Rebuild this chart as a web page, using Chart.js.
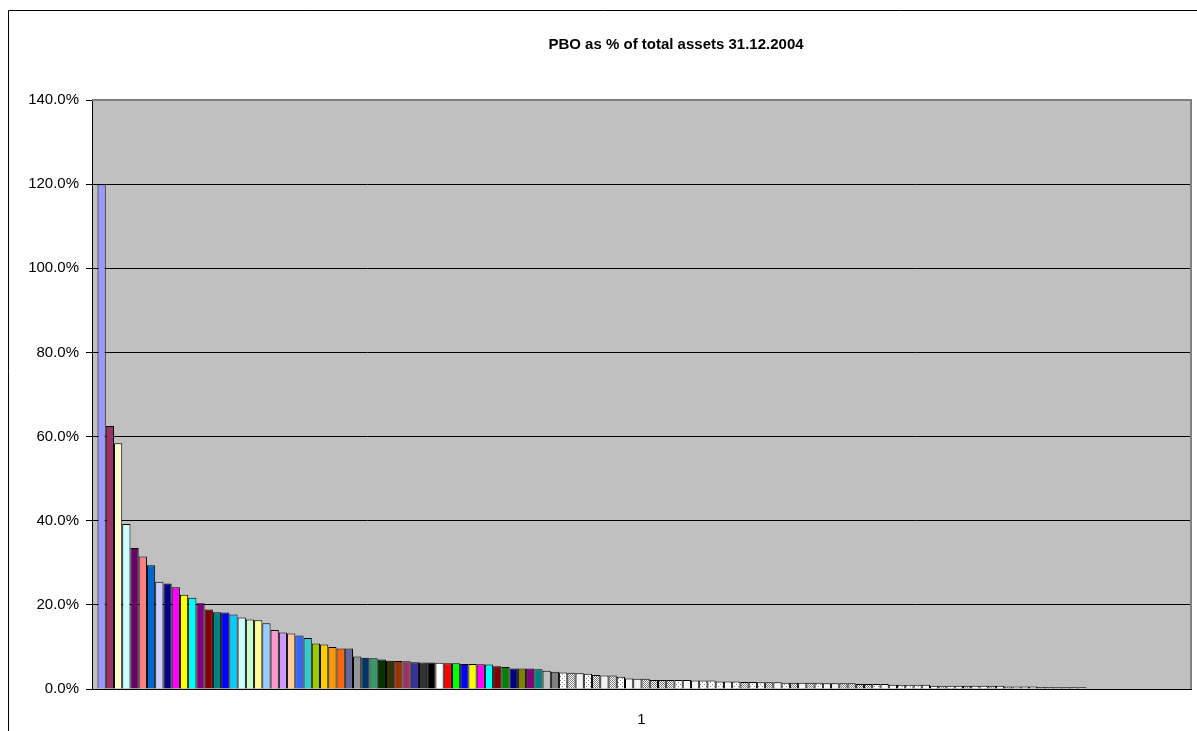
<!DOCTYPE html>
<html>
<head>
<meta charset="utf-8">
<script src="https://cdn.jsdelivr.net/npm/chart.js@4/dist/chart.umd.min.js"></script>
<style>
    html, body { margin: 0; padding: 0; background: #fff; }
    #wrap { width: 1197px; height: 731px; }
</style>
</head>
<body>
<div id="wrap"><canvas id="chart" width="1197" height="731"></canvas></div>
<script>
const categories = ['1']

// PBO as % of total assets, one series per company (sorted, as in the sheet)
const pboPercent = [
    120.0, 62.5, 58.4, 39.2, 33.5, 31.5, 29.4, 25.5, 25.1, 24.2,
    22.4, 21.7, 20.4, 18.9, 18.25, 18.2, 17.7, 17.0, 16.5, 16.35,
    15.6, 14.0, 13.4, 13.2, 12.7, 12.1, 10.8, 10.6, 10.0, 9.6,
    9.6, 7.7, 7.4, 7.3, 7.0, 6.7, 6.65, 6.6, 6.35, 6.3,
    6.3, 6.25, 6.1, 6.1, 5.95, 5.95, 5.9, 5.85, 5.4, 5.25,
    4.9, 4.9, 4.85, 4.7, 4.35, 4.1, 3.9, 3.85, 3.75, 3.6,
    3.3, 3.2, 3.2, 2.9, 2.5, 2.45, 2.45, 2.15, 2.15, 2.15,
    2.15, 2.15, 2.0, 2.0, 2.0, 1.8, 1.8, 1.8, 1.65, 1.65,
    1.6, 1.6, 1.6, 1.5, 1.5, 1.5, 1.5, 1.5, 1.35, 1.35,
    1.35, 1.35, 1.2, 1.2, 1.2, 1.2, 1.0, 1.0, 1.0, 1.0,
    1.0, 0.8, 0.8, 0.8, 0.75, 0.75, 0.75, 0.75, 0.75, 0.75,
    0.6, 0.6, 0.6, 0.6, 0.5, 0.5, 0.4, 0.4, 0.4, 0.4,
    0, 0, 0, 0, 0, 0, 0, 0, 0, 0, 0, 0
]

const chartTitle = 'PBO as % of total assets 31.12.2004'
const yTickMax = 140
const yTickStep = 20

// old Excel chart fill order (56 colours), patterns after that
const palette = [
    '#9999FF', '#993366', '#FFFFCC', '#CCFFFF', '#660066', '#FF8080', '#0066CC', '#CCCCFF',
    '#000080', '#FF00FF', '#FFFF00', '#00FFFF', '#800080', '#800000', '#008080', '#0000FF',
    '#00CCFF', '#CCFFFF', '#CCFFCC', '#FFFF99', '#99CCFF', '#FF99CC', '#CC99FF', '#FFCC99',
    '#3366FF', '#33CCCC', '#99CC00', '#FFCC00', '#FF9900', '#FF6600', '#666699', '#969696',
    '#003366', '#339966', '#003300', '#333300', '#993300', '#993366', '#333399', '#333333',
    '#000000', '#FFFFFF', '#FF0000', '#00FF00', '#0000FF', '#FFFF00', '#FF00FF', '#00FFFF',
    '#800000', '#008000', '#000080', '#808000', '#800080', '#008080', '#C0C0C0', '#808080'
]
const patternCycle = [
    'light', 'checker', 'white', 'light', 'checker', 'white', 'checker', 'light',
    'white', 'white', 'checker', 'checker', 'checker', 'checker', 'light', 'white',
    'white', 'light', 'light', 'light', 'white', 'light', 'checker', 'light'
]

function makePattern(kind) {
    const c = document.createElement('canvas')
    c.width = 4
    c.height = 4
    const g = c.getContext('2d')
    g.fillStyle = kind === 'white' ? '#F4F4F4' : '#FFFFFF'
    g.fillRect(0, 0, 4, 4)
    g.fillStyle = '#808080'
    if (kind === 'checker') {
        for (let y = 0; y < 4; y++) {
            for (let x = 0; x < 4; x++) {
                if ((x + y) % 2 === 0) g.fillRect(x, y, 1, 1)
            }
        }
    } else if (kind === 'light') {
        g.fillRect(0, 0, 1, 1)
        g.fillRect(2, 2, 1, 1)
    }
    return g.createPattern(c, 'repeat')
}

const patterns = {
    light: makePattern('light'),
    checker: makePattern('checker'),
    white: makePattern('white')
}

function fillFor(i) {
    if (i < palette.length) return palette[i]
    return patterns[patternCycle[(i - palette.length) % patternCycle.length]]
}

const datasets = pboPercent.map((v, i) => ({
    label: 'Series' + (i + 1),
    data: [v],
    backgroundColor: fillFor(i),
    borderColor: '#000000',
    borderWidth: 1,
    categoryPercentage: 0.99,
    barPercentage: 1.0
}))

const frame = {
    id: 'excelFrame',
    afterLayout(chart) {
        // the chart object is wider than the screenshot; centre the title on it
        const t = chart.titleBlock
        if (t) {
            t.left = 0
            t.right = 1352
        }
    },
    beforeDraw(chart) {
        const ctx = chart.ctx
        const a = chart.chartArea
        ctx.save()
        ctx.fillStyle = '#FFFFFF'
        ctx.fillRect(0, 0, chart.width, chart.height)
        // outer chart border (only top and left are inside the picture)
        ctx.strokeStyle = '#000000'
        ctx.lineWidth = 1
        ctx.beginPath()
        ctx.moveTo(8.5, chart.height + 2)
        ctx.lineTo(8.5, 10.5)
        ctx.lineTo(chart.width + 2, 10.5)
        ctx.stroke()
        ctx.fillStyle = '#C0C0C0'
        ctx.fillRect(a.left, a.top, a.right - a.left, a.bottom - a.top)
        ctx.restore()
    },
    afterDraw(chart) {
        const ctx = chart.ctx
        const a = chart.chartArea
        ctx.save()
        ctx.strokeStyle = '#808080'
        ctx.lineWidth = 2
        ctx.beginPath()
        ctx.moveTo(a.left, a.top)
        ctx.lineTo(a.right, a.top)
        ctx.lineTo(a.right, a.bottom)
        ctx.stroke()
        ctx.restore()
    }
}

const font = {family: "'Liberation Sans', Arial, sans-serif", size: 15}

new Chart(document.getElementById('chart'), {
    type: 'bar',
    data: {
        labels: categories,
        datasets: datasets
    },
    options: {
        responsive: false,
        animation: false,
        layout: {padding: {left: 0, top: 0, right: 6, bottom: 0}},
        plugins: {
            legend: {display: false},
            tooltip: {enabled: false},
            title: {
                display: true,
                text: chartTitle,
                color: '#000000',
                font: {...font, weight: 'bold'},
                padding: {top: 36, bottom: 46}
            }
        },
        scales: {
            x: {
                grid: {display: false},
                border: {display: true, color: '#000000', width: 1},
                ticks: {color: '#000000', font: font, padding: 14, maxRotation: 0},
                afterFit: (scale) => { scale.height = 42 }
            },
            y: {
                min: 0,
                max: yTickMax,
                grid: {color: '#000000', lineWidth: 1, tickLength: 6, tickColor: '#000000'},
                border: {display: true, color: '#000000', width: 1},
                ticks: {
                    stepSize: yTickStep,
                    color: '#000000',
                    font: font,
                    padding: 7,
                    callback: (value) => value.toFixed(1) + '%'
                },
                afterFit: (scale) => { scale.width = 92 }
            }
        }
    },
    plugins: [frame]
})
</script>
</body>
</html>
